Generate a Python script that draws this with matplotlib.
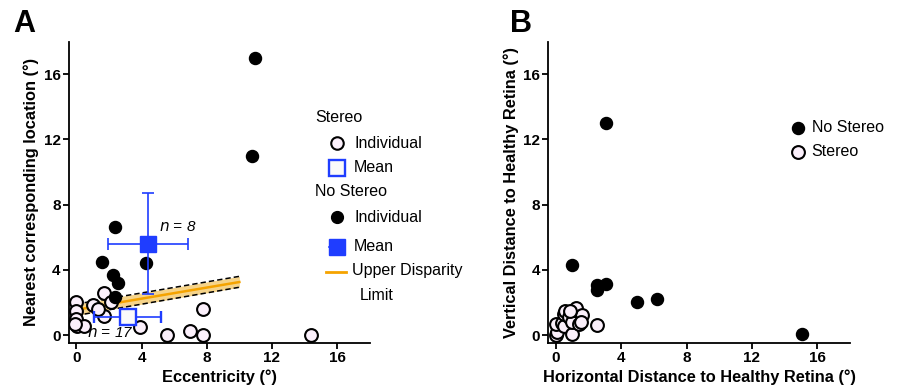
import numpy as np
import matplotlib
matplotlib.use("Agg")
from matplotlib import pyplot as plt
from matplotlib.lines import Line2D

plt.rcParams['font.family'] = ['Liberation Sans', 'DejaVu Sans']

# panel A: eccentricity vs nearest corresponding location
stereo_ecc = [0.0, 0.0, 0.0, 0.05, 0.45, -0.1, 1.05, 1.7, 2.15, 1.7, 1.3, 3.9, 5.55, 6.95, 7.8, 7.8, 14.4]
stereo_loc = [2.0, 1.45, 0.98, 0.55, 0.55, 0.7, 1.82, 2.55, 2.05, 1.15, 1.6, 0.5, 0.0, 0.25, 0.0, 1.6, 0.0]
nostereo_ecc = [10.95, 10.75, 2.35, 1.55, 4.25, 2.25, 2.55, 2.35]
nostereo_loc = [17.0, 11.0, 6.6, 4.5, 4.4, 3.7, 3.2, 2.35]

stereo_mean = (3.15, 1.12)
stereo_err = (2.05, 0.35)
nostereo_mean = (4.4, 5.6)
nostereo_err = (2.45, 3.1)

limit_x = [0, 10]
limit_y = [1.55, 3.25]
limit_lo = [1.2, 2.93]
limit_hi = [1.9, 3.6]

# panel B: horizontal / vertical distance to healthy retina
stereo_h = [0.0, 0.1, 0.0, 0.4, 0.5, 0.5, 0.6, 0.8, 1.0, 1.0, 1.2, 1.25, 1.45, 1.6, 1.55, 2.5, 0.9]
stereo_v = [0.0, 0.2, 0.7, 0.75, 0.55, 1.3, 1.45, 1.1, 0.05, 0.8, 1.55, 1.65, 0.7, 1.2, 0.8, 0.6, 1.5]
nostereo_h = [3.05, 1.0, 2.55, 2.5, 3.05, 5.0, 6.2, 15.05]
nostereo_v = [13.0, 4.3, 3.05, 2.75, 3.15, 2.0, 2.2, 0.05]

ticks = [0, 4, 8, 12, 16]

open_fc = '#fbf0fb'
blue = '#1f3dff'
orange = '#f5a300'
band = '#f6d48a'
FS = 11.5

fig = plt.figure(figsize=(8.98, 3.88), dpi=100)
axA = fig.add_axes([0.0768, 0.1168, 0.335, 0.776])
axB = fig.add_axes([0.6106, 0.1168, 0.336, 0.776])

def style(ax):
    ax.set_xlim(-0.45, 18)
    ax.set_ylim(-0.47, 18)
    ax.set_xticks(ticks)
    ax.set_yticks(ticks)
    for s in ['top', 'right']:
        ax.spines[s].set_visible(False)
    for s in ['left', 'bottom']:
        ax.spines[s].set_linewidth(1.3)
    ax.tick_params(direction='out', length=4, width=1.3, labelsize=11, pad=2)
    for lab in ax.get_xticklabels() + ax.get_yticklabels():
        lab.set_fontweight('bold')

# ---- panel A
axA.fill_between(limit_x, limit_lo, limit_hi, color=band, lw=0, zorder=1)
axA.plot(limit_x, limit_lo, 'k--', lw=1.1, dashes=(3.5, 2), zorder=2)
axA.plot(limit_x, limit_hi, 'k--', lw=1.1, dashes=(3.5, 2), zorder=2)
axA.plot(limit_x, limit_y, color=orange, lw=1.8, zorder=2)

axA.scatter(stereo_ecc, stereo_loc, s=85, facecolor=open_fc, edgecolor='k', lw=1.5, zorder=3)
axA.scatter(nostereo_ecc, nostereo_loc, s=75, color='k', zorder=3)

axA.errorbar(stereo_mean[0], stereo_mean[1], xerr=stereo_err[0], yerr=stereo_err[1],
             fmt='s', ms=12, mfc='#fafafa', mec=blue, mew=1.7, ecolor=blue,
             elinewidth=1.2, capsize=4.5, capthick=1.2, zorder=4)
axA.errorbar(nostereo_mean[0], nostereo_mean[1], xerr=nostereo_err[0], yerr=nostereo_err[1],
             fmt='s', ms=11, mfc=blue, mec=blue, ecolor=blue,
             elinewidth=1.2, capsize=4.5, capthick=1.2, zorder=4)

axA.text(6.2, 6.6, '$n$ = 8', fontsize=11, ha='center', va='center', style='italic')
axA.text(2.1, 0.1, '$n$ = 17', fontsize=11, ha='center', va='center', style='italic')

style(axA)
axA.set_xlabel('Eccentricity (°)', fontsize=11.8, fontweight='bold', labelpad=3)
axA.set_ylabel('Nearest corresponding location (°)', fontsize=11.8, fontweight='bold', labelpad=3)

# legend A drawn by hand
def fx(px):
    return px / 898.0

def fy(py):
    return 1 - py / 388.0

fig.text(fx(315), fy(117), 'Stereo', fontsize=FS, va='center')
fig.text(fx(315), fy(192), 'No Stereo', fontsize=FS, va='center')
items = [
    (143, 'Individual', dict(marker='o', ms=9, mfc=open_fc, mec='k', mew=1.5, ls='none')),
    (168, 'Mean', dict(marker='s', ms=12, mfc='#fafafa', mec=blue, mew=1.7, ls='none')),
    (217, 'Individual', dict(marker='o', ms=8.5, color='k', ls='none')),
    (247, 'Mean', dict(marker='s', ms=11, color=blue, ls='none')),
]
for py, txt, kw in items:
    fig.add_artist(Line2D([fx(337)], [fy(py)], transform=fig.transFigure, **kw))
    fig.text(fx(354), fy(py), txt, fontsize=FS, va='center')
fig.add_artist(Line2D([fx(329), fx(344)], [fy(247)] * 2, transform=fig.transFigure, color=blue, lw=1.2))
fig.add_artist(Line2D([fx(326), fx(346)], [fy(272)] * 2, transform=fig.transFigure, color=orange, lw=2))
fig.text(fx(352), fy(271), 'Upper Disparity', fontsize=FS, va='center')
fig.text(fx(360), fy(295), 'Limit', fontsize=FS, va='center')

# ---- panel B
axB.scatter(nostereo_h, nostereo_v, s=75, color='k', zorder=3, label='No Stereo')
axB.scatter(stereo_h, stereo_v, s=85, facecolor=open_fc, edgecolor='k', lw=1.5, zorder=3, label='Stereo')
style(axB)
axB.set_xlabel('Horizontal Distance to Healthy Retina (°)', fontsize=11.8, fontweight='bold', labelpad=3)
axB.set_ylabel('Vertical Distance to Healthy Retina (°)', fontsize=11.8, fontweight='bold', labelpad=3)
axB.legend(loc='upper left', bbox_to_anchor=(fx(782), fy(112)), bbox_transform=fig.transFigure,
           frameon=False, fontsize=FS, handletextpad=0.35, labelspacing=0.55, borderpad=0,
           handlelength=1.0)

fig.text(fx(13), fy(24), 'A', fontsize=22, fontweight='bold', va='center')
fig.text(fx(510), fy(24), 'B', fontsize=22, fontweight='bold', va='center')

fig.savefig('out.png', dpi=100)
